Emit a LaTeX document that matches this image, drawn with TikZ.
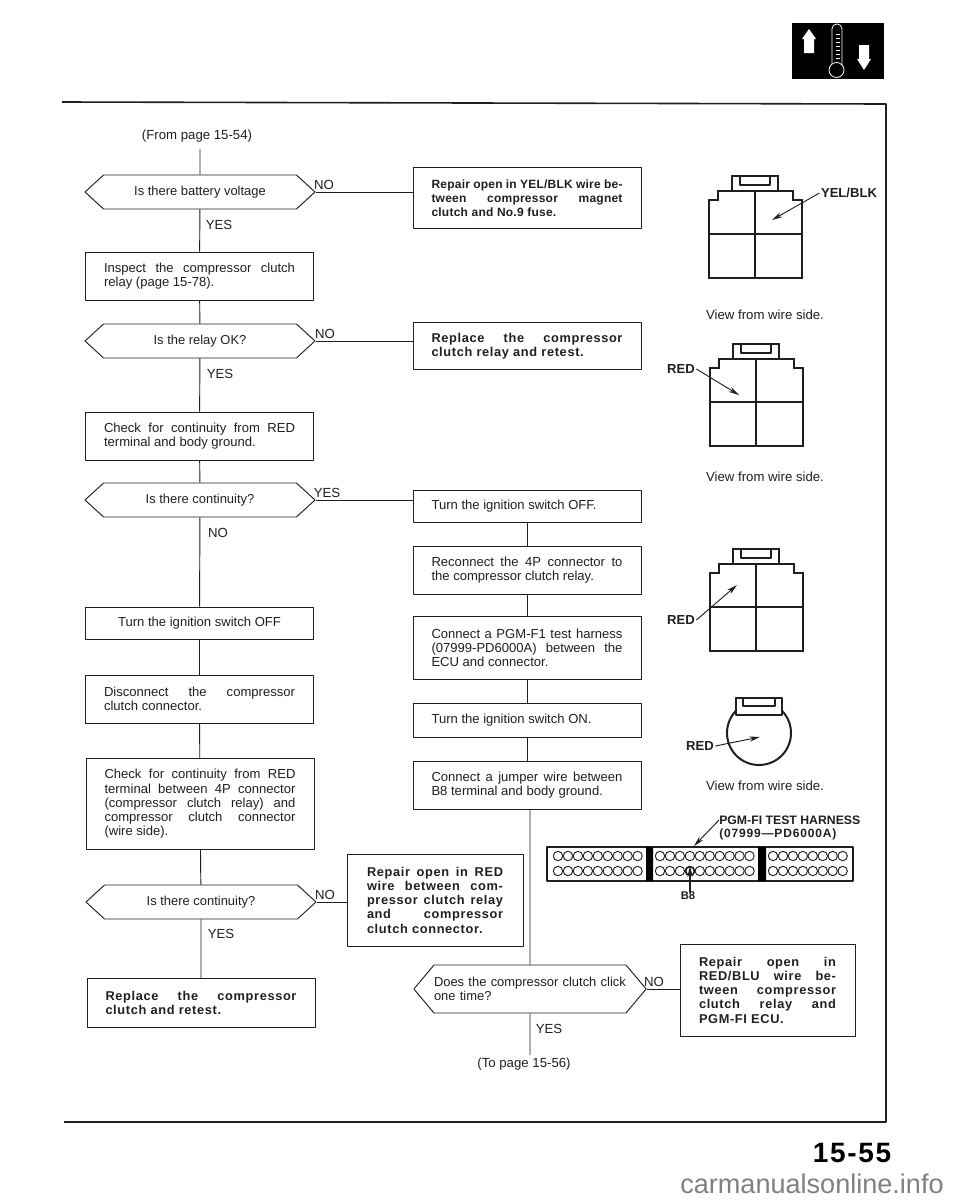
\documentclass[tikz,border=0pt]{standalone}
\usepackage{fontspec}
\setmainfont{Liberation Sans}
\usetikzlibrary{shapes.symbols,arrows.meta}
\newcommand\bx{\fontsize{9.6}{10.7}\bfseries\addfontfeature{LetterSpace=5}\selectfont}
\tolerance=9999 \hbadness=10000 \hfuzz=6pt
\definecolor{ink}{gray}{0.12}
\tikzset{
 wire/.style={line width=.7pt,color=ink},
 lead/.style={line width=.7pt,color=ink,-{Stealth[length=8pt,width=4pt]}},
 procbox/.style={draw=ink,line width=.7pt,inner xsep=18.5*.75pt,inner ysep=0pt,align=justify,text=ink,text width=#1*.75pt,
   font=\fontsize{9.8}{10.7}\selectfont},
 procbox/.default=191,
 ask/.style={draw=ink,line width=.7pt,shape=signal,signal to=west and east,signal pointer angle=85,inner sep=0pt,text=ink,
   minimum width=230*.75pt,minimum height=34*.75pt,font=\fontsize{9.7}{10.7}\selectfont},
 tag/.style={text=ink,inner sep=0pt,font=\fontsize{9.9}{10.7}\selectfont},
 wtag/.style={text=ink,inner sep=1pt,font=\fontsize{9.8}{10.7}\bfseries\selectfont},
 pics/fourp/.style={code={
   \draw[line width=1.5pt,color=ink,line join=miter] (-46.5,102)--(-46.5,24)--(-37.5,24)--(-37.5,15)--(-23,15)--(-23,0)--(23,0)--(23,15)--(37.5,15)--(37.5,24)--(46.5,24)--(46.5,102)--cycle;
   \draw[line width=1pt,color=ink] (-15,1)--(-15,9)--(15,9)--(15,1);
   \draw[line width=.9pt,color=ink] (-23,15)--(23,15) (-46.5,58)--(46.5,58) (0,15)--(0,102);
 }}
}
\begin{document}
\begin{tikzpicture}[x=.75pt,y=-.75pt,line join=round]
 \useasboundingbox (0,0) rectangle (960,1200);
 \draw[line width=1.2pt,color=ink] (62,102)--(886,104)--(886,1122)--(64,1122);
 \fill[black] (792,23) rectangle (884,79);
 \fill[white] (809,29)--(816,39)--(814,39)--(814,53)--(804,53)--(804,39)--(802,39)--cycle;
 \fill[white] (864,70)--(857,59)--(859,59)--(859,45)--(869,45)--(869,59)--(871,59)--cycle;
 \draw[white,line width=.6pt,rounded corners=3.5pt] (832,66)--(832,24)--(842,24)--(842,66);
 \draw[white,line width=.6pt,fill=black] (836.5,70) circle (7.5);
 \foreach \y in {34,38,...,58}
 \draw[white,line width=.4pt] (836,\y)--(840,\y);
 % left column
 \node[tag] (from) at (197,136) {(From page 15-54)};
 \node[ask] (q1) at (200,192) {Is there battery voltage};
 \node[procbox,minimum height=48*.75pt] (insp) at (199.5,276) {Inspect the compressor clutch\linebreak relay (page 15-78).};
 \node[ask] (q2) at (200,341) {Is the relay OK?};
 \node[procbox,minimum height=48*.75pt] (chk1) at (199.5,436) {Check for continuity from RED\linebreak terminal and body ground.};
 \node[ask] (q3) at (200,500) {Is there continuity?};
 \node[procbox,minimum height=32*.75pt] (off1) at (199.5,623) {\centering Turn the ignition switch OFF\par};
 \node[procbox,minimum height=48*.75pt] (disc) at (199.5,699) {Disconnect the compressor\linebreak clutch connector.};
 \node[procbox,minimum height=91*.75pt] (chk2) at (200,804) {Check for continuity from RED\linebreak terminal between 4P connector\linebreak (compressor clutch relay) and\linebreak compressor clutch connector\linebreak (wire side).};
 \node[ask] (q4) at (201,902) {Is there continuity?};
 \node[procbox,minimum height=49*.75pt] (rep4) at (201,1003) {\bx Replace the compressor\linebreak clutch and retest.};
 % right column
 \node[procbox,minimum height=61*.75pt] (rep1) at (527,198) {\fontsize{9}{10.7}\bfseries\addfontfeature{LetterSpace=2}\selectfont Repair open in YEL/BLK wire be-\linebreak tween compressor magnet\linebreak clutch and No.9 fuse.};
 \node[procbox,minimum height=47*.75pt] (rep2) at (527,346) {\bx Replace the compressor\linebreak clutch relay and retest.};
 \node[procbox,minimum height=32*.75pt] (off2) at (527,506) {Turn the ignition switch OFF.};
 \node[procbox,minimum height=48*.75pt] (recon) at (527,570) {Reconnect the 4P connector to\linebreak the compressor clutch relay.};
 \node[procbox,minimum height=63*.75pt] (pgm) at (527,648) {Connect a PGM-F1 test harness\linebreak (07999-PD6000A) between the\linebreak ECU and connector.};
 \node[procbox,minimum height=34*.75pt] (on) at (527,720) {Turn the ignition switch ON.};
 \node[procbox,minimum height=48*.75pt] (jump) at (527,785) {Connect a jumper wire between\linebreak B8 terminal and body ground.};
 \node[procbox=136,inner xsep=20*.75pt,minimum height=92*.75pt] (rep3) at (435,900) {\bx Repair open in RED\linebreak wire between com-\linebreak pressor clutch relay\linebreak and compressor\linebreak clutch connector.};
 \node[ask,signal pointer angle=100,minimum width=230*.75pt,minimum height=48*.75pt,align=left,text width=192*.75pt] (does) at (530,989) {Does the compressor clutch click\\one time?};
 \node[procbox=137,inner xsep=19*.75pt,minimum height=92*.75pt] (rep5) at (767.5,990) {\bx Repair open in\linebreak RED/BLU wire be-\linebreak tween compressor\linebreak clutch relay and\linebreak PGM-FI ECU.};
 \node[tag] (to) at (524,1064) {(To page 15-56)};
 % answers
 \foreach \x/\y/\t in {324/185/NO,219/225/YES,325/334/NO,220/374/YES,327/493/YES,218/533/NO,325/895/NO,221/934/YES,654/982/NO,549/1029/YES}
 \node[tag] at (\x,\y) {\t};
 % flow lines
 \draw[wire] ([yshift=-5pt]from.south -| q1) -- (q1);
 \foreach \a/\b in {q1/insp,insp/q2,q2/chk1,chk1/q3,q3/off1,off1/disc,disc/chk2,chk2/q4,q4/rep4}
 \draw[wire] (\a) -- (\b);
 \foreach \a/\b in {off2/recon,recon/pgm,pgm/on,on/jump}
 \draw[wire] (\a) -- (\b);
 \draw[wire] (jump.south -| does) -- (does);
 \draw[wire] (does) -- ([yshift=2pt]to.north -| does);
 \foreach \a/\b in {q1/rep1,q2/rep2,q3/off2,q4/rep3,does/rep5}
 \draw[wire] (\a.east) -- (\b.west |- \a.east);
 % connectors
 \pic at (755,176) {fourp};
 \pic at (756,344) {fourp};
 \pic at (756,549) {fourp};
 \draw[line width=1.5pt,color=ink] (759,733) circle (32);
 \draw[line width=1.5pt,color=ink,fill=white] (736,698) rectangle (782,715);
 \draw[line width=1pt,color=ink] (743,699)--(743,706)--(775,706)--(775,699);
 \node[wtag] (yb) at (849,193) {YEL/BLK};
 \node[wtag] (red1) at (681,369) {RED};
 \node[wtag] (red2) at (681,620) {RED};
 \node[wtag] (red3) at (700,746) {RED};
 \coordinate (ybend) at (772,220);
 \coordinate (red1end) at (739,395);
 \coordinate (red2end) at (737,585);
 \coordinate (red3end) at (760,737);
 \draw[lead] (yb.west) -- (ybend);
 \draw[lead] (red1.east) -- (red1end);
 \draw[lead] (red2.east) -- (red2end);
 \draw[lead] (red3.east) -- (red3end);
 \foreach \y in {315,477,786}
 \node[tag] at (765,\y) {View from wire side.};
 % test harness
 \draw[line width=1.5pt,color=ink] (547,847) rectangle (853,881);
 \fill[black] (646,847) rectangle (653,881) (758,847) rectangle (766,881);
 \foreach \xs/\n in {558/8,660/9,773/7}
 \foreach \i in {0,...,\n}
 \foreach \y in {856,871}
 \draw[line width=.7pt,color=ink] (\xs+\i*9.95,\y) circle (4.7);
 \draw[line width=1.2pt,color=ink] (690,871) circle (4.4);
 \node[wtag,font=\fontsize{9.2}{10}\bfseries\selectfont,anchor=west,inner sep=0pt] (hn) at (719,820) {PGM-FI TEST HARNESS};
 \node[wtag,font=\fontsize{9}{9}\bfseries\addfontfeature{LetterSpace=7}\selectfont,anchor=west,inner sep=0pt] (pn) at (719,834) {(07999---PD6000A)};
 \node[wtag,font=\fontsize{8.4}{9}\bfseries\selectfont,inner sep=0pt] (b8) at (688,896) {B8};
 \coordinate (hnend) at (694,846);
 \coordinate (b8end) at (690,866);
 \draw[lead] (hn.west) -- (hnend);
 \draw[lead,line width=1pt] (b8.north -| b8end) -- (b8end);
 % page foot
 \node[inner sep=0pt,text=black,font=\fontsize{21}{22}\bfseries\addfontfeature{LetterSpace=6}\selectfont] (pg) at (852,1153) {15-55};
 \node[inner sep=0pt,text=black!50,font=\fontsize{20.3}{22}\selectfont] (site) at (812,1184) {carmanualsonline.info};
\end{tikzpicture}
\end{document}
